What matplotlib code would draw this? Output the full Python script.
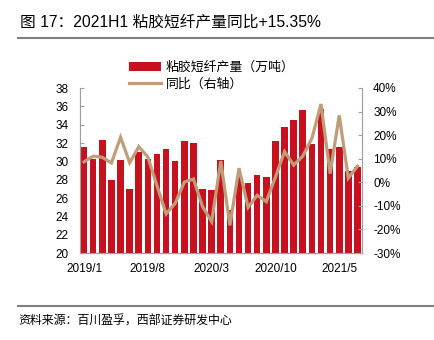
import matplotlib
matplotlib.use("Agg")
import matplotlib.pyplot as plt
import numpy as np
from matplotlib.ticker import FuncFormatter, MultipleLocator

# monthly data, 2019/1 .. 2021/7
months = [f"{y}/{m}" for y in (2019, 2020, 2021) for m in range(1, 13)][:31]
output = [31.6, 30.3, 32.3, 28.0, 30.2, 27.0, 31.0, 30.3, 30.8, 31.4,
          30.0, 32.2, 32.0, 27.0, 26.9, 30.2, 24.7, 28.3, 27.6, 28.5,
          28.3, 32.2, 33.7, 34.5, 35.6, 31.9, 35.7, 31.3, 31.6, 29.0,
          29.4]
yoy = [8.7, 11.1, 10.6, 8.2, 19.1, 8.3, 15.1, 10.7, -1.5, -13.4,
       -8.9, 0.1, 1.4, -10.3, -16.7, 9.0, -18.3, 6.0, -10.6, -5.5,
       -8.2, 2.2, 13.0, 7.3, 11.1, 18.6, 33.2, 3.7, 28.4, 1.8,
       6.8]
tick_labels = ["2019/1", "2019/8", "2020/3", "2020/10", "2021/5"]

title = "图 17：2021H1 粘胶短纤产量同比+15.35%"
source = "资料来源：百川盈孚，西部证券研发中心"
bar_label = "粘胶短纤产量（万吨）"
line_label = "同比（右轴）"

BAR_COLOR = "#C8111E"
LINE_COLOR = "#C09C78"
LAT_CJK = ["Liberation Sans", "Noto Sans CJK SC"]
CJK = ["Noto Sans CJK SC", "DejaVu Sans"]

plt.rcParams["font.family"] = LAT_CJK

fig = plt.figure(figsize=(4.35, 3.4), dpi=100)
ax = fig.add_axes([80 / 435, 1 - 253 / 340, 282 / 435, 165 / 340])
ax2 = ax.twinx()

x = np.arange(len(output))
ax.bar(x, output, width=0.72, color=BAR_COLOR, label=bar_label, zorder=2)
ax2.plot(x, np.array(yoy) / 100, color=LINE_COLOR, lw=2.3, label=line_label,
         solid_joinstyle="miter")

ax.set_xlim(-0.45, len(output) - 0.5)
ax.set_ylim(20, 38)
ax.yaxis.set_major_locator(MultipleLocator(2))
ax2.set_ylim(-0.3, 0.4)
ax2.yaxis.set_major_locator(MultipleLocator(0.1))
ax2.yaxis.set_major_formatter(FuncFormatter(lambda v, _: f"{v * 100:.0f}%"))

ticks = [months.index(t) for t in tick_labels]
ax.set_xticks(ticks)
ax.set_xticklabels(tick_labels)

for a in (ax, ax2):
    for s in a.spines.values():
        s.set_color("#A0A0A0")
        s.set_linewidth(0.8)
    a.spines["top"].set_visible(False)
    a.tick_params(direction="in", length=3, color="#A0A0A0", labelsize=8.5,
                  labelcolor="black")
ax.spines["bottom"].set_color("#555555")
ax.tick_params(axis="y", pad=8)
ax.tick_params(axis="x", pad=7)
ax2.tick_params(axis="y", pad=8)

# legend
h1, l1 = ax.get_legend_handles_labels()
h2, l2 = ax2.get_legend_handles_labels()
fig.legend(h1 + h2, l1 + l2, loc="upper left",
           bbox_to_anchor=(129 / 435, 1 - 61 / 340), frameon=False,
           prop={"family": CJK, "size": 9.3}, handlelength=2.5,
           handleheight=0.75, handletextpad=0.35, labelspacing=0.3,
           borderpad=0, borderaxespad=0)

# header / footer
fig.text(20 / 435, 1 - 22 / 340, title, fontsize=11.3, va="center", ha="left")
fig.add_artist(plt.Line2D([18 / 435, 433 / 435], [1 - 37.5 / 340] * 2,
                          color="#808080", lw=1.5))
fig.add_artist(plt.Line2D([18 / 435, 433 / 435], [1 - 305.5 / 340] * 2,
                          color="#808080", lw=1.5))
fig.text(18 / 435, 1 - 321 / 340, source, fontsize=8.6, va="center",
         ha="left", family=CJK)

fig.savefig("out.png", dpi=100)
